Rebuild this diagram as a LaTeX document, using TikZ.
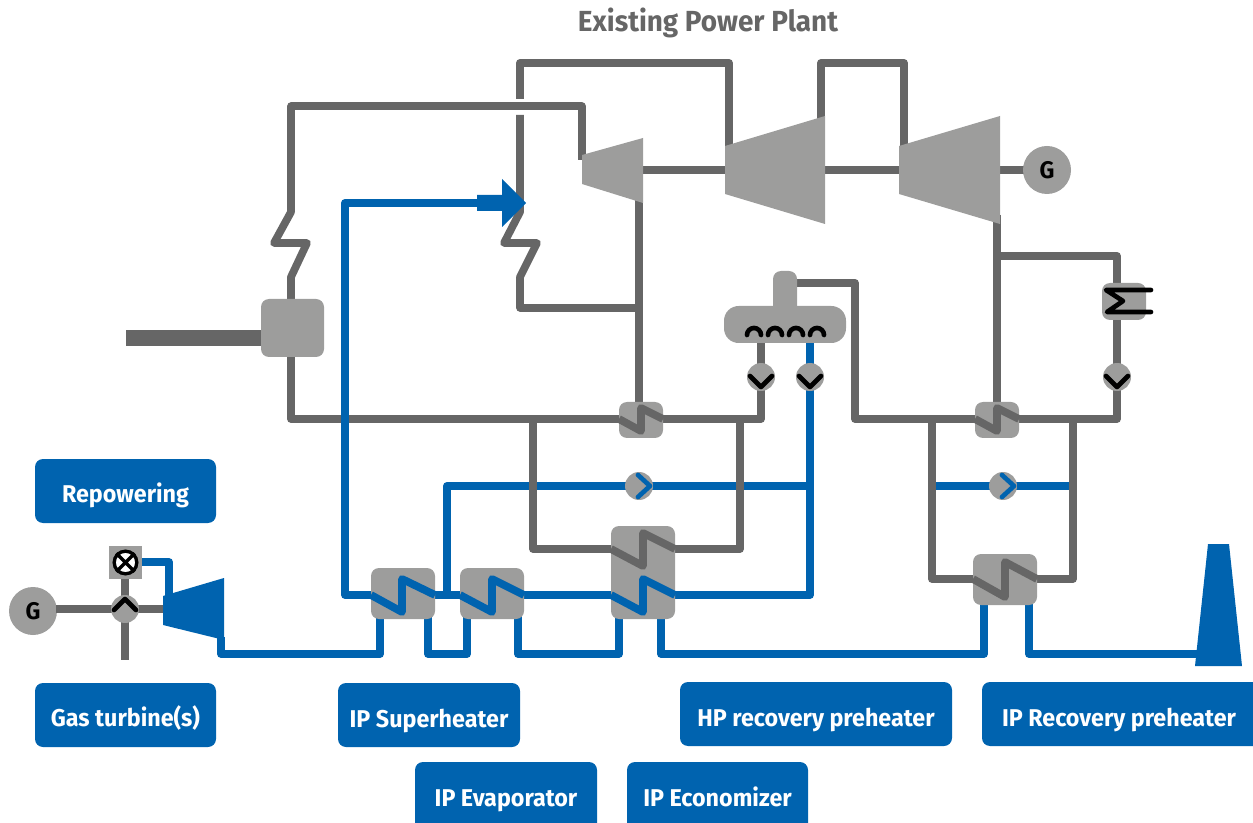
\documentclass[tikz,border=0pt]{standalone}
\usepackage{fontspec}
\setmainfont{Fira Sans}
\newfontfamily\labelfont[FakeStretch=0.96]{Fira Sans}
\definecolor{pgray}{HTML}{666666}
\definecolor{lgray}{HTML}{9D9D9C}
\definecolor{pblue}{HTML}{0063AF}
\tikzset{
  gpipe/.style={draw=pgray,line width=5.8pt,line join=round,line cap=butt},
  bpipe/.style={draw=pblue,line width=5.8pt,line join=round,line cap=butt},
  blk/.style={draw=black,line width=3.5pt,line join=round,line cap=round},
  hxbox/.style={fill=lgray,rounded corners=6pt,draw=none},
  pumpc/.style={circle,fill=lgray,minimum size=21pt,inner sep=0pt,draw=none},
  genc/.style={circle,fill=lgray,minimum size=36pt,inner sep=0pt,font=\labelfont\bfseries\fontsize{18}{19}\selectfont},
  tagtext/.style={text=white,inner sep=0pt,anchor=base,font=\labelfont\bfseries\fontsize{18.2}{20}\selectfont},
}
% name, x1, y1, x2, y2, text centre x, baseline y, text
\newcommand{\tagbox}[8]{\fill[pblue,rounded corners=6pt] (#2,#3) rectangle (#4,#5);
  \node[tagtext] (#1) at (#6,#7) {#8};}
\begin{document}
\begin{tikzpicture}[x=0.75pt,y=-0.75pt]
\useasboundingbox (0,0) rectangle (1253,823);

% steam pipes, upper
\draw[gpipe] (291,299) -- (291,277) -- (307,243) -- (274,243) -- (291,212) -- (291,106) -- (582,106) -- (582,160);
\draw[gpipe] (520,99) -- (520,63) -- (729,63) -- (729,150);
\draw[gpipe] (520,115) -- (520,212) -- (504,243) -- (537,243) -- (520,277) -- (520,308) -- (639,308);
\draw[gpipe] (821,125) -- (821,63) -- (904,63) -- (904,150);
\draw[gpipe] (643,170) -- (725,170);
\draw[gpipe] (825,170) -- (899,170);
\draw[gpipe] (1000,170) -- (1030,170);
\draw[gpipe] (639,195) -- (639,410);
\draw[gpipe] (997,215) -- (997,410);
\draw[gpipe] (997,256) -- (1117,256) -- (1117,419) -- (1019,419);
\draw[pgray,line width=12pt] (126,338) -- (265,338);
\draw[gpipe] (291,350) -- (291,419) -- (619,419);
\draw[gpipe] (663,419) -- (761,419) -- (761,343);
\draw[gpipe] (796,283) -- (855,283) -- (855,419) -- (975,419);

% blue pipes
\draw[bpipe] (810,343) -- (810,595) -- (675,595);
\draw[bpipe] (611,595) -- (524,595);
\draw[bpipe] (460,595) -- (435,595);
\draw[bpipe] (371,595) -- (345,595) -- (345,203) -- (480,203);
\draw[bpipe] (447,595) -- (447,486) -- (810,486);
\draw[bpipe] (936,486) -- (1069,486);
\draw[bpipe] (221,637) -- (221,654) -- (380,654) -- (380,615);
\draw[bpipe] (428,615) -- (428,654) -- (467,654) -- (467,615);
\draw[bpipe] (518,615) -- (518,654) -- (619,654) -- (619,615);
\draw[bpipe] (661,615) -- (661,654) -- (984,654) -- (984,600);
\draw[bpipe] (1029,600) -- (1029,654) -- (1200,654);
\draw[bpipe] (142,562) -- (169,562) -- (169,596);
\fill[pblue] (477,195) -- (502,195) -- (502,179) -- (526,203) -- (502,227) -- (502,211) -- (477,211) -- cycle;

% gray over blue
\draw[gpipe] (533,419) -- (533,549) -- (611,549);
\draw[gpipe] (675,549) -- (740,549) -- (740,419);
\draw[gpipe] (932,419) -- (932,579) -- (973,579);
\draw[gpipe] (1037,579) -- (1073,579) -- (1073,419);

% turbines
\fill[lgray] (582,155) -- (643,138) -- (643,203) -- (582,184) -- cycle;
\fill[lgray] (725,146) -- (825,116) -- (825,224) -- (725,194) -- cycle;
\fill[lgray] (899,146) -- (1000,116) -- (1000,224) -- (899,194) -- cycle;
\fill[pblue] (163,596) -- (224,578) -- (224,640) -- (163,625) -- cycle;
\fill[pblue] (1208,544) -- (1229,544) -- (1242,666) -- (1195,666) -- cycle;

% generators
\node[genc] (g1) at (1047,170) {G};
\node[genc] (g2) at (33,611) {G};

% boiler box
\fill[hxbox] (261,299) rectangle (324,357);

% deaerator
\fill[lgray,rounded corners=6pt] (773,271) rectangle (797,320);
\fill[lgray,rounded corners=11pt] (724,306) rectangle (846,343);
\foreach \cx in {754,775,796,817}
  \draw[blk] (\cx-7,335) arc (180:360:7);

% heat exchangers
\fill[hxbox] (371,568) rectangle (435,619);
\draw[bpipe] (371,595) -- (402,612) -- (402,579) -- (435,595);
\fill[hxbox] (460,568) rectangle (524,619);
\draw[bpipe] (460,595) -- (492,612) -- (492,579) -- (524,595);
\fill[hxbox] (611,526) rectangle (675,619);
\draw[gpipe] (611,549) -- (643,566) -- (643,533) -- (675,549);
\draw[bpipe] (611,595) -- (643,612) -- (643,579) -- (675,595);
\fill[hxbox] (973,554) rectangle (1037,605);
\draw[gpipe] (973,579) -- (1005,597) -- (1005,562) -- (1037,579);
\fill[hxbox] (619,402) rectangle (663,438);
\draw[gpipe] (619,419) -- (641,431) -- (641,408) -- (663,419);
\fill[hxbox] (975,402) rectangle (1019,438);
\draw[gpipe] (975,419) -- (997,431) -- (997,408) -- (1019,419);

% condenser
\fill[hxbox] (1102,283) rectangle (1146,320);
\draw[blk] (1151,290) -- (1106,290) -- (1123,301) -- (1107,312) -- (1151,312);

% pumps
\node[pumpc] (p1) at (761,377) {};
\draw[blk] (750,376) -- (761,387) -- (772,376);
\node[pumpc] (p2) at (810,377) {};
\draw[blk] (799,376) -- (810,387) -- (821,376);
\node[pumpc] (p3) at (1117,377) {};
\draw[blk] (1106,376) -- (1117,387) -- (1128,376);
\node[pumpc] (p4) at (639,486) {};
\draw[blk,draw=pblue] (638,475) -- (650,486) -- (638,497);
\node[pumpc] (p5) at (1003,486) {};
\draw[blk,draw=pblue] (1002,475) -- (1014,486) -- (1002,497);

% gas turbine shaft and valve
\draw[gpipe] (56,609) -- (163,609);
\draw[gpipe] (125,579) -- (125,660);
\node[pumpc] (p6) at (125,609) {};
\draw[blk] (114,610) -- (125,599) -- (136,610);
\fill[lgray] (109,546) rectangle (142,579);
\node[circle,draw=black,fill=white,line width=2.5pt,minimum size=17pt,inner sep=0pt] (v) at (125.5,562.5) {};
\draw[black,line width=2.5pt] (v.north west) -- (v.south east) (v.north east) -- (v.south west);

% title
\node[text=pgray,inner sep=0pt,anchor=base,font=\labelfont\bfseries\fontsize{21.8}{24}\selectfont] (title) at (708,32) {Existing Power Plant};

% labels
\tagbox{t1}{35}{459}{216}{523}{125.5}{502}{Repowering}
\tagbox{t2}{35}{683}{216}{747}{125.5}{726}{Gas turbine(s)}
\tagbox{t3}{338}{683}{520}{747}{429}{727}{IP Superheater}
\tagbox{t4}{415}{762}{597}{834}{506}{806}{IP Evaporator}
\tagbox{t5}{627}{762}{808}{834}{717.5}{806}{IP Economizer}
\tagbox{t6}{680}{682}{952}{746}{816}{726}{HP recovery preheater}
\tagbox{t7}{982}{682}{1270}{746}{1119}{726}{IP Recovery preheater}
\end{tikzpicture}
\end{document}
